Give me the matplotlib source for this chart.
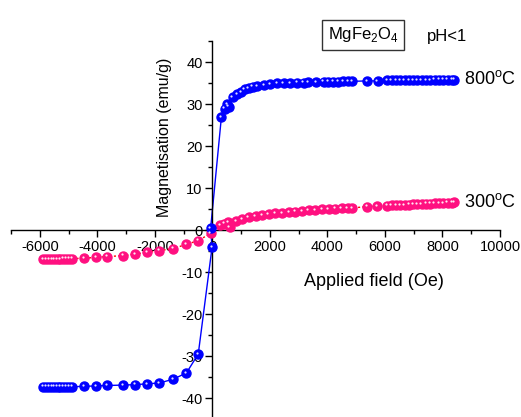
import matplotlib
matplotlib.use("Agg")
import matplotlib.pyplot as plt
import matplotlib.transforms as mtransforms
from matplotlib.ticker import MultipleLocator

plt.rcParams['font.family'] = ['Liberation Sans', 'DejaVu Sans']
plt.rcParams['axes.unicode_minus'] = False

# 800 C series
field_800 = [-5880, -5780, -5680, -5580, -5480, -5380, -5280, -5180, -5080, -4980, -4880,
             -4450, -4030, -3650, -3100, -2680, -2260, -1840, -1360, -900, -490, -10, -60,
             313, 430, 510, 570, 710, 860, 1000, 1120, 1260, 1400, 1550, 1790, 2020, 2250,
             2480, 2710, 2950, 3170, 3340, 3620, 3870, 4030, 4200, 4380, 4550, 4720, 4870,
             5380, 5750, 6080, 6230, 6380, 6530, 6680, 6830, 6980, 7130, 7280, 7430, 7580,
             7730, 7880, 8030, 8180, 8330, 8400]
mag_800 = [-37.3, -37.3, -37.3, -37.3, -37.3, -37.3, -37.3, -37.3, -37.3, -37.3, -37.3,
           -37.2, -37.1, -37.0, -36.9, -36.8, -36.6, -36.4, -35.5, -34.0, -29.5, -4.1, 0.4,
           26.8, 28.9, 30.0, 29.4, 31.6, 32.4, 32.9, 33.5, 33.8, 34.1, 34.3, 34.5, 34.8, 34.9,
           35.0, 35.0, 35.1, 35.1, 35.2, 35.2, 35.3, 35.3, 35.3, 35.3, 35.4, 35.4, 35.4,
           35.5, 35.5, 35.6, 35.6, 35.6, 35.6, 35.6, 35.7, 35.7, 35.7, 35.7, 35.7, 35.7,
           35.8, 35.8, 35.8, 35.8, 35.8, 35.8]

# 300 C series
field_300 = [-5880, -5780, -5680, -5580, -5480, -5380, -5280, -5180, -5080, -4980, -4880,
             -4450, -4030, -3650, -3100, -2680, -2260, -1840, -1360, -900, -490, -60,
             280, 400, 560, 600, 835, 1030, 1260, 1500, 1730, 1960, 2190, 2430, 2660, 2890,
             3120, 3350, 3580, 3810, 4040, 4270, 4500, 4700, 4870, 5380, 5730, 6080, 6230,
             6380, 6530, 6680, 6830, 6980, 7130, 7280, 7430, 7580, 7730, 7880, 8030, 8180,
             8330, 8400]
mag_300 = [-7.0, -7.0, -7.0, -6.9, -6.9, -6.9, -6.9, -6.8, -6.8, -6.8, -6.8,
           -6.7, -6.5, -6.3, -6.1, -5.7, -5.3, -4.9, -4.4, -3.4, -2.5, -0.8,
           1.1, 1.5, 1.8, 0.7, 2.2, 2.6, 3.0, 3.3, 3.6, 3.8, 3.95, 4.1, 4.25, 4.4,
           4.55, 4.7, 4.8, 4.9, 5.0, 5.1, 5.15, 5.2, 5.25, 5.6, 5.7, 5.8, 5.85,
           5.9, 5.95, 6.0, 6.05, 6.1, 6.15, 6.2, 6.25, 6.3, 6.35, 6.4, 6.45, 6.5,
           6.55, 6.6]

blue = '#0000ff'
pink = '#ff1080'

fig = plt.figure(figsize=(5.21, 4.17), dpi=100)
ax = fig.add_axes([11/521, 0.0, 489/521, 376/417])

ax.plot(field_300, mag_300, color='#ff0000', lw=1.0, ls=(0, (1.5, 1.5)), zorder=2)
ax.plot(field_300, mag_300, ls='none', marker='o', ms=6.5, mfc=pink, mec=pink, zorder=3)
ax.plot(field_800, mag_800, color=blue, lw=1.0, zorder=2)
ax.plot(field_800, mag_800, ls='none', marker='o', ms=6.5, mfc=blue, mec=blue, zorder=3)

hl = mtransforms.offset_copy(ax.transData, fig=fig, x=-1.3, y=1.3, units='dots')
ax.plot(field_300, mag_300, ls='none', marker='o', ms=1.6, mfc='#ffe8f2', mec='none',
        transform=hl, zorder=4)
ax.plot(field_800, mag_800, ls='none', marker='o', ms=1.6, mfc='#e0e0ff', mec='none',
        transform=hl, zorder=4)

ax.set_xlim(-7000, 10000)
ax.set_ylim(-44.5, 45)
ax.spines['left'].set_position(('data', 0))
ax.spines['bottom'].set_position(('data', 0))
ax.spines['top'].set_visible(False)
ax.spines['right'].set_visible(False)
for s in ('left', 'bottom'):
    ax.spines[s].set_linewidth(1.0)

ax.set_xticks([-6000, -4000, -2000, 0, 2000, 4000, 6000, 8000, 10000])
ax.set_yticks([-40, -30, -20, -10, 0, 10, 20, 30, 40])
ax.xaxis.set_minor_locator(MultipleLocator(1000))
ax.yaxis.set_minor_locator(MultipleLocator(5))
ax.tick_params(which='major', direction='out', length=5, width=1.0, labelsize=10.5, pad=2)
ax.tick_params(which='minor', direction='out', length=3, width=1.0)

ax.text(5630, -12.3, 'Applied field (Oe)', fontsize=13, ha='center', va='center')
ax.text(-1650, 22.0, 'Magnetisation (emu/g)', fontsize=11.5, ha='center', va='center',
        rotation=90)
ax.text(8750, 35.9, '800$^\\mathregular{o}$C', fontsize=13, ha='left', va='center')
ax.text(8750, 6.6, '300$^\\mathregular{o}$C', fontsize=13, ha='left', va='center')

fig.text(363/521, 1 - 35/417, 'MgFe$_\\mathregular{2}$O$_\\mathregular{4}$', fontsize=12,
         ha='center', va='center',
         bbox=dict(boxstyle='square,pad=0.35', fc='white', ec='#333333', lw=1.0))
fig.text(447/521, 1 - 37/417, 'pH<1', fontsize=12, ha='center', va='center')

fig.savefig('out.png', dpi=100)
